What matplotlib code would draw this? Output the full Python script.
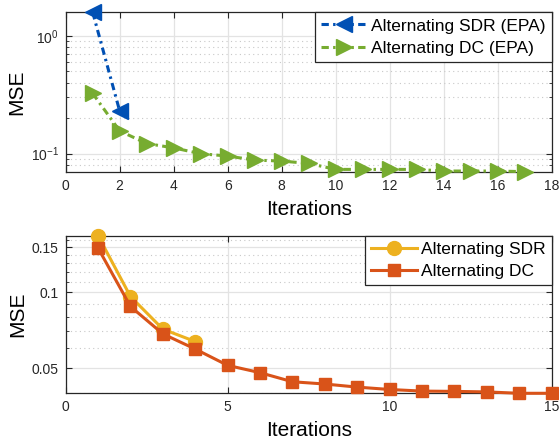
import matplotlib
matplotlib.use("Agg")
import matplotlib.pyplot as plt
import numpy as np
from matplotlib.ticker import FixedLocator, MultipleLocator, NullFormatter, LogLocator

plt.rcParams['font.family'] = ['Liberation Sans', 'DejaVu Sans']
plt.rcParams['mathtext.fontset'] = 'custom'
plt.rcParams['mathtext.rm'] = 'Liberation Sans'
plt.rcParams['mathtext.it'] = 'Liberation Sans:italic'

# top panel (EPA)
iter_sdr_epa = [1, 2]
mse_sdr_epa = [1.58, 0.23]
iter_dc_epa = list(range(1, 18))
mse_dc_epa = [0.324, 0.156, 0.122, 0.112, 0.100, 0.0955, 0.0883, 0.0866, 0.0827,
              0.0736, 0.0736, 0.0736, 0.0736, 0.0713, 0.0713, 0.0713, 0.0704]

# bottom panel
iter_sdr = [1, 2, 3, 4]
mse_sdr = [0.1667, 0.096, 0.0714, 0.0638]
iter_dc = list(range(1, 16))
mse_dc = [0.149, 0.0877, 0.0684, 0.0596, 0.0514, 0.0481, 0.0443, 0.0434, 0.0422,
          0.0413, 0.0407, 0.0406, 0.0404, 0.0399, 0.0399]

blue = '#0050b4'
green = '#77ac30'
yellow = '#edb120'
orange = '#d95319'
axcol = '#262626'
dashdot = (0, (2.4, 1.4, 0.8, 1.4))

fig = plt.figure(figsize=(5.59, 4.45), dpi=100)
ax1 = fig.add_axes([0.1175, 0.6142, 0.8694, 0.3582])
ax2 = fig.add_axes([0.1175, 0.1162, 0.8694, 0.3541])


def style(ax):
    ax.set_yscale('log')
    ax.tick_params(which='both', direction='in', top=True, right=True,
                   colors=axcol, labelsize=10, labelcolor=axcol, pad=5)
    ax.tick_params(which='major', length=4)
    ax.tick_params(which='minor', length=2.5)
    ax.tick_params(axis='x', which='minor', top=False, bottom=False)
    for s in ax.spines.values():
        s.set_color(axcol)
        s.set_linewidth(0.9)
    ax.grid(True, which='major', color='#e3e3e3', lw=0.9, ls='-')
    ax.grid(True, which='minor', axis='y', color='#c8c8c8', lw=0.8, ls=(0, (1, 3)))
    ax.set_axisbelow(True)
    ax.set_ylabel('MSE', fontsize=15, labelpad=3)
    ax.set_xlabel('Iterations', fontsize=15, labelpad=5)


def legend(ax):
    leg = ax.legend(loc='upper right', fontsize=12.5, handlelength=2.65, fancybox=False,
                    framealpha=1, edgecolor=axcol, borderpad=0.35, labelspacing=0.4,
                    handletextpad=0.25, borderaxespad=0)
    leg.get_frame().set_linewidth(0.9)


# top
ax1.plot(iter_sdr_epa, mse_sdr_epa, ls=dashdot, color=blue, lw=2.2, marker='<',
         ms=11, clip_on=False, label='Alternating SDR (EPA)', zorder=3)
ax1.plot(iter_dc_epa, mse_dc_epa, ls=dashdot, color=green, lw=2.2, marker='>',
         ms=11, clip_on=False, label='Alternating DC (EPA)', zorder=3)
style(ax1)
ax1.set_xlim(0, 18)
ax1.set_xticks(range(0, 19, 2))
ax1.set_ylim(min(mse_dc_epa), max(mse_sdr_epa))
ax1.yaxis.set_major_locator(LogLocator(base=10))
ax1.yaxis.set_minor_locator(LogLocator(base=10, subs=np.arange(2, 10)))
ax1.yaxis.set_minor_formatter(NullFormatter())
legend(ax1)

# bottom
ax2.plot(iter_sdr, mse_sdr, ls='-', color=yellow, lw=2.2, marker='o', ms=10,
         clip_on=False, label='Alternating SDR', zorder=3)
ax2.plot(iter_dc, mse_dc, ls='-', color=orange, lw=2.2, marker='s', ms=9,
         clip_on=False, label='Alternating DC', zorder=3)
style(ax2)
ax2.set_xlim(0, 15)
ax2.set_xticks([0, 5, 10, 15])
ax2.set_ylim(min(mse_dc), max(mse_sdr))
ax2.yaxis.set_major_locator(FixedLocator([0.05, 0.1, 0.15]))
ax2.yaxis.set_minor_locator(MultipleLocator(0.01))
ax2.yaxis.set_major_formatter(plt.FuncFormatter(lambda v, p: '%g' % v))
ax2.yaxis.set_minor_formatter(NullFormatter())
legend(ax2)

fig.savefig('out.png', dpi=100)
